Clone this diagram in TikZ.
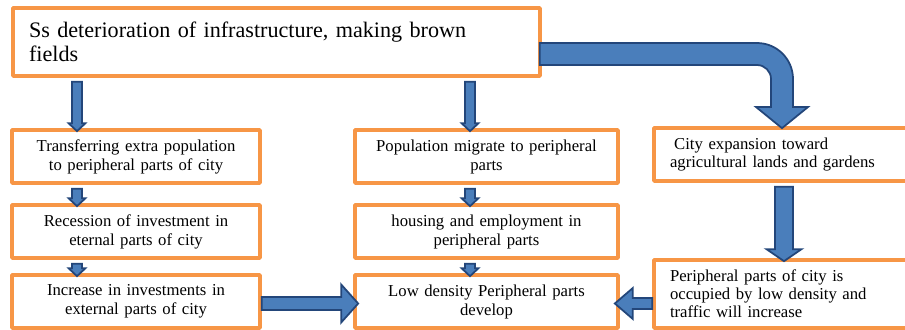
\documentclass[tikz,border=0pt]{standalone}
\usepackage{fontspec}
\setmainfont{Liberation Serif}
\usetikzlibrary{calc}
\definecolor{boxorange}{HTML}{F79646}
\definecolor{arrowblue}{HTML}{4A7EBB}
\definecolor{arrowline}{HTML}{23467A}
\tikzset{
  stagebox/.style={draw=boxorange, line width=2.1pt, fill=white, inner sep=0pt, align=center,
    font=\fontsize{9.5}{10.8}\selectfont},
  blockarrow/.style={fill=arrowblue, draw=arrowline, line width=1pt, line join=miter}
}
% down block arrow: from, to, column, half shaft, half head, head length
\newcommand{\flowdown}[6]{%
  \path ($(#1.south -| #3)+(0,4)$) coordinate (fa) ($(#2.north -| #3)+(0,3)$) coordinate (fb);
  \draw[blockarrow] ($(fa)+(-#4,0)$) -- ($(fb)+(-#4,-#6)$) -- ($(fb)+(-#5,-#6)$) -- (fb)
    -- ($(fb)+(#5,-#6)$) -- ($(fb)+(#4,-#6)$) -- ($(fa)+(#4,0)$) -- cycle;}
% side block arrow: from, to, row, half shaft, half head, head length, direction
\newcommand{\flowside}[7]{%
  \path (#1 |- #3) coordinate (fa) ($(#2 |- #3)+({5*(#7)},0)$) coordinate (fb);
  \draw[blockarrow] ($(fa)+(0,-#4)$) -- ($(fb)+({-(#7)*#6},-#4)$) -- ($(fb)+({-(#7)*#6},-#5)$) -- (fb)
    -- ($(fb)+({-(#7)*#6},#5)$) -- ($(fb)+({-(#7)*#6},#4)$) -- ($(fa)+(0,#4)$) -- cycle;}
\begin{document}
\begin{tikzpicture}[line cap=round,line join=round,x=0.02cm,y=-0.02cm]
				\clip (0,0) rectangle (905,329);
				\coordinate (colL) at (77,0);
				\coordinate (colM) at (470,0);
				\coordinate (colR) at (784,0);
				\coordinate (rowB) at (0,303.5);
				% boxes
				\node[stagebox, minimum width=10.54cm, minimum height=1.36cm, text width=9.9cm, align=left,
				  font=\fontsize{12.6}{14}\selectfont] (top) at (276.5,42) {Ss deterioration of infrastructure, making brown\\fields};
				\node[stagebox, minimum width=4.96cm, minimum height=1.06cm, text width=4.6cm] (L1) at (136,156.5) {Transferring extra population\\to peripheral parts of city};
				\node[stagebox, minimum width=4.96cm, minimum height=1.06cm, text width=4.6cm] (L2) at (136,231.5) {Recession of investment in\\eternal parts of city};
				\node[stagebox, minimum width=4.96cm, minimum height=1.06cm, text width=4.6cm] (L3) at (136,301.5) {Increase in investments in\\external parts of city};
				\node[stagebox, minimum width=5.26cm, minimum height=1.06cm, text width=5cm] (M1) at (486.5,156.5) {Population migrate to peripheral\\parts};
				\node[stagebox, minimum width=5.26cm, minimum height=1.06cm, text width=5cm] (M2) at (486.5,231.5) {housing and employment in\\peripheral parts};
				\node[stagebox, minimum width=5.26cm, minimum height=1.06cm, text width=5cm] (M3) at (486.5,301.5) {Low density Peripheral parts\\develop};
				\node[stagebox, minimum width=5.12cm, minimum height=1.06cm, text width=4.48cm, align=left] (R1) at (782,154.5) {\hspace*{0.25em}City expansion toward\\agricultural lands and gardens};
				\node[stagebox, minimum width=5.12cm, minimum height=1.36cm, text width=4.48cm, align=left,
				  font=\fontsize{9.5}{10.2}\selectfont] (R2) at (782,294) {Peripheral parts of city is\\occupied by low density and\\traffic will increase};
				% arrows
				\flowdown{top}{L1}{colL}{5}{8.5}{8}
				\flowdown{L1}{L2}{colL}{5}{8.5}{8}
				\flowdown{L2}{L3}{colL}{5}{8.5}{8}
				\flowdown{top}{M1}{colM}{5}{8.5}{8}
				\flowdown{M1}{M2}{colM}{5}{8.5}{8}
				\flowdown{M2}{M3}{colM}{5}{8.5}{8}
				\flowdown{R1}{R2}{colR}{9}{17.5}{12}
				\flowside{L3.east}{M3.west}{rowB}{6.5}{19}{17}{1}
				\flowside{R2.west}{M3.east}{rowB}{5.5}{15.5}{18}{-1}
				\draw[blockarrow] ($(top.east)+(-2,1)$) -- (757,43) arc[start angle=-90, end angle=0, radius=36]
				  -- (793,107) -- (808,107) -- ($(R1.north)+(0,2)$) -- (756,107) -- (771,107)
				  -- (771,79) arc[start angle=0, end angle=-90, radius=14] -- ($(top.east)+(-2,23)$) -- cycle;
			\end{tikzpicture}
\end{document}
